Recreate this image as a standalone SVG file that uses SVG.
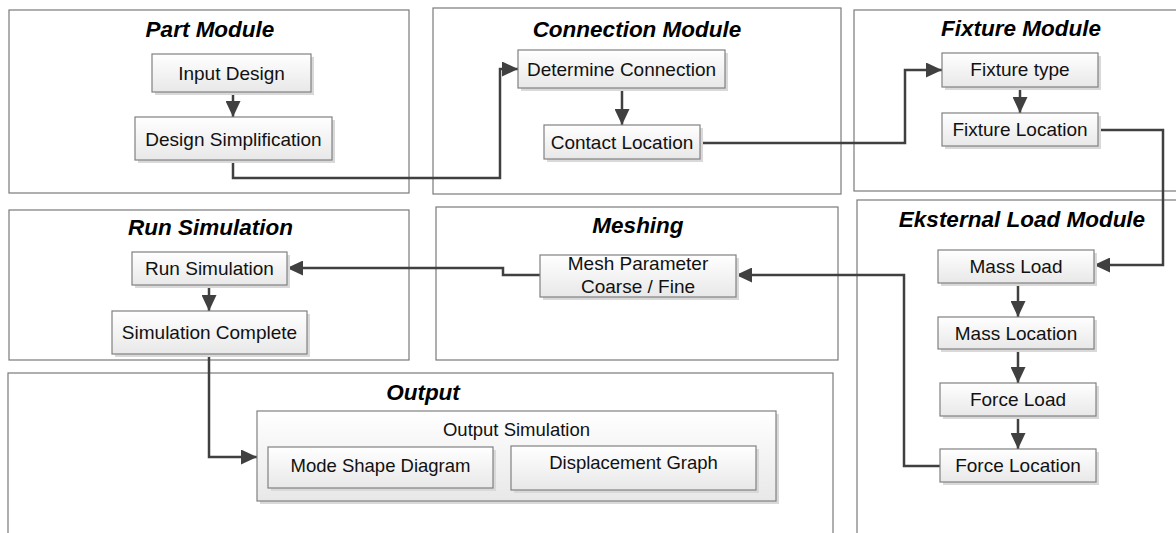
<svg xmlns="http://www.w3.org/2000/svg" width="1176" height="533" viewBox="0 0 1176 533">
<style>
.mod{fill:#ffffff;stroke:#7a7a7a;stroke-width:1.2}
.title{font-family:"Liberation Sans",Arial,sans-serif;font-weight:bold;font-style:italic;font-size:22.5px;fill:#000;text-anchor:middle}
.node{fill:url(#g);stroke:#808080;stroke-width:1.2}
.sh{fill:#d9d9d9}
.t{font-family:"Liberation Sans",Arial,sans-serif;font-size:19px;fill:#111;text-anchor:middle}
.t2{font-family:"Liberation Sans",Arial,sans-serif;font-size:18.5px;fill:#111;text-anchor:middle}
.c{fill:none;stroke:#404040;stroke-width:2.5;marker-end:url(#ah)}
</style>
<defs>
<linearGradient id="g" x1="0" y1="0" x2="0" y2="1">
<stop offset="0" stop-color="#ffffff"/>
<stop offset="1" stop-color="#e8e8e8"/>
</linearGradient>
<marker id="ah" markerUnits="userSpaceOnUse" viewBox="0 0 16 15" markerWidth="16" markerHeight="15" refX="16" refY="7.5" orient="auto">
<path d="M0,0 L16,7.5 L0,15 z" fill="#404040"/>
</marker>
</defs>
<rect width="1176" height="533" fill="#ffffff"/>

<g id="modules">
<g id="part-module"><rect class="mod" x="9" y="10" width="400" height="183"/><text class="title" x="210" y="36.5">Part Module</text></g>
<g id="connection-module"><rect class="mod" x="433" y="8" width="408" height="186"/><text class="title" x="637" y="36.5">Connection Module</text></g>
<g id="fixture-module"><rect class="mod" x="854" y="10" width="340" height="181"/><text class="title" x="1021" y="36">Fixture Module</text></g>
<g id="eksternal-load-module"><rect class="mod" x="857" y="200" width="340" height="350"/><text class="title" x="1022" y="227">Eksternal Load Module</text></g>
<g id="run-simulation-module"><rect class="mod" x="9" y="210" width="400" height="150"/><text class="title" x="210.5" y="235">Run Simulation</text></g>
<g id="meshing-module"><rect class="mod" x="436" y="207" width="402" height="153"/><text class="title" x="638" y="233">Meshing</text></g>
<g id="output-module"><rect class="mod" x="8" y="373" width="825" height="180"/><text class="title" x="423" y="400">Output</text></g>
</g>

<g id="connectors">
<path class="c" d="M233,92 V117"/>
<path class="c" d="M233,160 V178 H500 V69 H518"/>
<path class="c" d="M622,88 V125"/>
<path class="c" d="M700,143 H905 V70 H942"/>
<path class="c" d="M1020,87 V113"/>
<path class="c" d="M1098,130 H1163 V265 H1094"/>
<path class="c" d="M1018,283 V317"/>
<path class="c" d="M1018,349 V383"/>
<path class="c" d="M1018,416 V449"/>
<path class="c" d="M940,466 H904 V275 H736"/>
<path class="c" d="M540,275 H503 V268 H287"/>
<path class="c" d="M209,285 V311"/>
<path class="c" d="M209,354 V457 H257"/>
</g>

<g id="input-design"><rect class="sh" x="155" y="57" width="159" height="38"/><rect class="node" x="152" y="54" width="159" height="38"/><text class="t" x="231.5" y="80">Input Design</text></g>
<g id="design-simplification"><rect class="sh" x="138" y="120" width="197" height="43"/><rect class="node" x="135" y="117" width="197" height="43"/><text class="t" x="233.5" y="146">Design Simplification</text></g>
<g id="determine-connection"><rect class="sh" x="521" y="53" width="207" height="38"/><rect class="node" x="518" y="50" width="207" height="38"/><text class="t" x="621.5" y="76">Determine Connection</text></g>
<g id="contact-location"><rect class="sh" x="547" y="128" width="156" height="34"/><rect class="node" x="544" y="125" width="156" height="34"/><text class="t" x="622" y="149">Contact Location</text></g>
<g id="fixture-type"><rect class="sh" x="945" y="56" width="156" height="34"/><rect class="node" x="942" y="53" width="156" height="34"/><text class="t" x="1020" y="76">Fixture type</text></g>
<g id="fixture-location"><rect class="sh" x="945" y="116" width="156" height="33"/><rect class="node" x="942" y="113" width="156" height="33"/><text class="t" x="1020" y="136">Fixture Location</text></g>
<g id="mass-load"><rect class="sh" x="941" y="253" width="156" height="33"/><rect class="node" x="938" y="250" width="156" height="33"/><text class="t" x="1016" y="273">Mass Load</text></g>
<g id="mass-location"><rect class="sh" x="941" y="320" width="156" height="32"/><rect class="node" x="938" y="317" width="156" height="32"/><text class="t" x="1016" y="340">Mass Location</text></g>
<g id="force-load"><rect class="sh" x="943" y="386" width="156" height="33"/><rect class="node" x="940" y="383" width="156" height="33"/><text class="t" x="1018" y="406">Force Load</text></g>
<g id="force-location"><rect class="sh" x="943" y="452" width="156" height="33"/><rect class="node" x="940" y="449" width="156" height="33"/><text class="t" x="1018" y="472">Force Location</text></g>
<g id="mesh-parameter"><rect class="sh" x="543" y="258" width="196" height="42"/><rect class="node" x="540" y="255" width="196" height="42"/><text class="t" x="638" y="270">Mesh Parameter</text><text class="t" x="638" y="293">Coarse / Fine</text></g>
<g id="run-simulation"><rect class="sh" x="135" y="255" width="155" height="33"/><rect class="node" x="132" y="252" width="155" height="33"/><text class="t" x="209.5" y="275">Run Simulation</text></g>
<g id="simulation-complete"><rect class="sh" x="115" y="314" width="195" height="43"/><rect class="node" x="112" y="311" width="195" height="43"/><text class="t" x="209.5" y="339">Simulation Complete</text></g>
<g id="output-simulation"><rect class="sh" x="260" y="414" width="519" height="90"/><rect class="node" x="257" y="411" width="519" height="90"/><text class="t2" x="516.5" y="436">Output Simulation</text>
<g id="mode-shape-diagram"><rect class="sh" x="271" y="450" width="225" height="41"/><rect class="node" x="268" y="447" width="225" height="41"/><text class="t2" x="380.5" y="472">Mode Shape Diagram</text></g>
<g id="displacement-graph"><rect class="sh" x="514" y="449" width="245" height="44"/><rect class="node" x="511" y="446" width="245" height="44"/><text class="t2" x="633.5" y="469">Displacement Graph</text></g>
</g>
</svg>
